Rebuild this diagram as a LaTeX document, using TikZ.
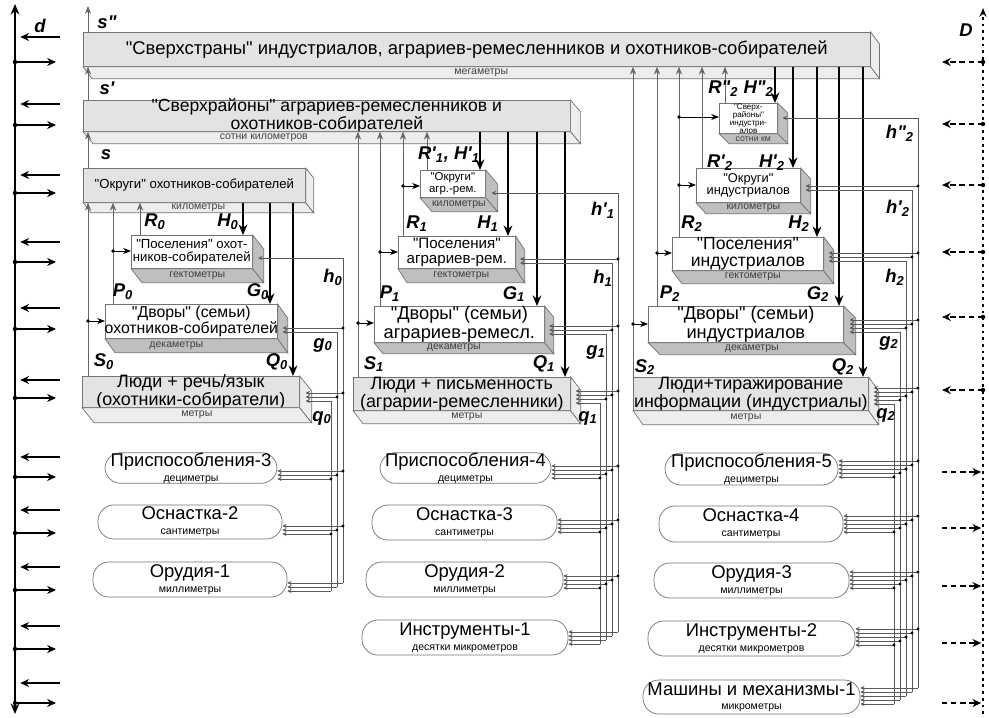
\documentclass[tikz,border=0pt]{standalone}
\usepackage{fontspec}
\setmainfont{Liberation Sans}[Ligatures=TeXOff]
\usetikzlibrary{arrows.meta,calc}

\tikzset{
  front/.style={draw=black!55, line width=0.4pt, anchor=north west, inner sep=0pt},
  lightfront/.style 2 args={front, fill=gray!22, minimum width=#1cm, minimum height=#2cm},
  whitefront/.style 2 args={front, fill=white, minimum width=#1cm, minimum height=#2cm},
  face/.style={draw=black!55, line width=0.4pt},
  boxtext/.style={font=\fontsize{#1}{#1}\selectfont, align=center, inner sep=0pt},
  scalelbl/.style={font=\fontsize{6}{6}\selectfont, text=black!75, inner sep=0pt},
  tool/.style 2 args={draw=black!55, line width=0.4pt, rounded corners=9pt, minimum width=#1cm, minimum height=#2cm, align=center, inner sep=0pt, font=\fontsize{10.5}{10}\selectfont},
  bus/.style={draw=black!65, line width=0.35pt},
  upln/.style={draw=black!60, line width=0.45pt, -{Stealth[length=4.5pt,width=3.5pt]}},
  dnln/.style={draw=black, line width=1pt, -{Stealth[length=6pt,width=5pt]}},
  brn/.style={line width=0.5pt, -{Stealth[length=4.5pt,width=3.5pt]}},
  lbl/.style={font=\fontsize{10.5}{10.5}\selectfont\bfseries\itshape, inner sep=0pt},
  leftarr/.style={line width=1.1pt, -{Stealth[length=5pt,width=4.5pt]}, shorten >=3pt},
  rightarr/.style={line width=1.1pt, -{Stealth[length=5pt,width=4.5pt]}},
  dashleft/.style={line width=0.9pt, dash pattern=on 3pt off 2.2pt, -{Stealth[length=5pt,width=4.5pt]}},
  dashright/.style={dashleft, shorten >=1pt}
}

% scale line under a tool name
\newcommand\unit[1]{\\[-1.5pt]{\fontsize{6}{6}\selectfont #1}}

% bottom and side faces of a box, with its scale
\newcommand\slab[6]{%
  \draw[face, fill=#4] (#1.south west) -- (#1.south east) -- ++(#2,#3) -- ($(#1.south west)+(#2,#3)$) -- cycle;
  \draw[face, fill=#4] (#1.north east) -- ++(#2,#3) -- ($(#1.south east)+(#2,#3)$) -- (#1.south east) -- cycle;
  \pgfmathsetmacro\slabdx{#2/2+#6}%
  \pgfmathsetmacro\slabdy{#3/2}%
  \coordinate (#1-s) at ($(#1.east)+(#2/2,\slabdy)$);
  \node[scalelbl] (#1-sc) at ($(#1.south)+(\slabdx,\slabdy)$) {#5};
}

% lines from a box side to the bus verticals
\newcommand\busrow[5]{%
  \foreach \vx [count=\j from 0] in {#5} {%
    \ifnum\j<#3\relax
      \pgfmathsetmacro\yy{#2+4*\j}%
      \draw[bus, {Stealth[length=2.4pt,width=2.4pt]}-] (#1 |- 0,\yy) -- (\vx,\yy);%
      \ifnum\j<#4\relax \fill (\vx,\yy) circle (1.6);\fi
    \fi
  }%
}

\begin{document}
\begin{tikzpicture}[x=0.02cm, y=-0.02cm]
\useasboundingbox (0,0) rectangle (989,717);

% axis d
\coordinate (dtop) at (15,4);
\coordinate (dbot) at (15,714);
\draw[line width=1.2pt, {Stealth[length=6pt,width=5pt]}-{Stealth[length=6pt,width=5pt]}] (dbot) -- (dtop);
\node[lbl] (dname) at (40,26) {d};
\foreach \ya/\yb in {37/62,104/125,175/193,242/262,308/329,380/398,457/477,510/533,567/590,626/649,683/703} {
  \draw[leftarr] (60,\ya) -- (dtop |- 0,\ya);
  \fill (dtop |- 0,\yb) circle (2.2);
  \draw[rightarr] (dtop |- 0,\yb) -- (56,\yb);
}

% axis D
\coordinate (Dtop) at (983,8);
\coordinate (Dbot) at (983,714);
\draw[line width=1.3pt, dash pattern=on 1.6pt off 2.2pt, -{Stealth[length=5pt,width=4pt]}] (Dbot) -- (Dtop);
\node[lbl] (Dname) at (966,30) {D};
\foreach \y in {62,124,185,252,317,390} {
  \fill (Dtop |- 0,\y) circle (2.2);
  \draw[dashleft] (Dtop |- 0,\y) -- (942,\y);
}
\foreach \y in {472,528,586,643,703}
  \draw[dashright] (942,\y) -- (Dtop |- 0,\y);

% boxes
\node[lightfront={15.74}{0.68}, label={[boxtext=10.5]center:{"Сверхстраны" индустриалов, аграриев-ремесленников и охотников-собирателей}}] (sstr) at (83,32) {};
\slab{sstr}{9}{12}{gray!14}{мегаметры}{0}
\node[lightfront={9.74}{0.62}, label={[boxtext=10]center:{"Сверхрайоны" аграриев-ремесленников и\\охотников-собирателей}}] (srai) at (83,100) {};
\slab{srai}{10}{12}{gray!14}{сотни километров}{-68}
\node[lightfront={4.44}{0.68}, label={[boxtext=7.5]center:{"Округи" охотников-собирателей}}] (okr0) at (83,168) {};
\slab{okr0}{8}{10}{gray!14}{километры}{0}

\node[whitefront={1.16}{0.60}, label={[boxtext=4.6]center:{"Сверх-\\районы"\\индустри-\\алов}}] (srai2) at (719,103) {};
\slab{srai2}{10}{10}{gray!50}{\fontsize{5}{5}\selectfont сотни км}{0}
\node[whitefront={1.30}{0.54}, label={[boxtext=6.5]center:{"Округи"\\агр.-рем.}}] (okr1) at (420,170) {};
\slab{okr1}{12}{14}{gray!50}{километры}{0}
\node[whitefront={2.08}{0.68}, label={[boxtext=7.3]center:{"Округи"\\индустриалов}}] (okr2) at (696,168) {};
\slab{okr2}{10}{11}{gray!50}{километры}{0}

\node[whitefront={2.42}{0.66}, label={[boxtext=7.5]center:{"Поселения" охот-\\ников-собирателей}}] (pos0) at (131,235) {};
\slab{pos0}{11}{14}{gray!50}{гектометры}{0}
\node[whitefront={2.34}{0.64}, label={[boxtext=8.6]center:{"Поселения"\\аграриев-рем.}}] (pos1) at (398,236) {};
\slab{pos1}{9}{14}{gray!50}{гектометры}{0}
\node[whitefront={3.02}{0.66}, label={[boxtext=10]center:{"Поселения"\\индустриалов}}] (pos2) at (672,237) {};
\slab{pos2}{10}{13}{gray!50}{гектометры}{0}

\node[whitefront={3.44}{0.68}, label={[boxtext=9]center:{"Дворы" (семьи)\\охотников-собирателей}}] (dv0) at (105,304) {};
\slab{dv0}{10}{14}{gray!50}{декаметры}{-20}
\node[whitefront={3.40}{0.72}, label={[boxtext=10.4]center:{"Дворы" (семьи)\\аграриев-ремесл.}}] (dv1) at (374,306) {};
\slab{dv1}{9}{11}{gray!50}{декаметры}{-10}
\node[whitefront={3.90}{0.72}, label={[boxtext=10.4]center:{"Дворы" (семьи)\\индустриалов}}] (dv2) at (648,306) {};
\slab{dv2}{12}{12}{gray!50}{декаметры}{0}

\node[lightfront={4.34}{0.62}, label={[boxtext=10.2]center:{Люди + речь/язык\\(охотники-собиратели)}}] (ppl0) at (82,376) {};
\slab{ppl0}{12}{15}{gray!14}{метры}{0}
\node[lightfront={4.34}{0.66}, label={[boxtext=10.2]center:{Люди + письменность\\(аграрии-ремесленники)}}] (ppl1) at (353,377) {};
\slab{ppl1}{10}{13}{gray!14}{метры}{0}
\node[lightfront={4.70}{0.66}, label={[boxtext=10.2]center:{Люди+тиражирование\\информации (индустриалы)}}] (ppl2) at (633,377) {};
\slab{ppl2}{10}{14}{gray!14}{метры}{-10}

% tools
\node[tool={3.44}{0.60}] (pr3) at (191,468) {Приспособления-3\unit{дециметры}};
\node[tool={3.68}{0.68}] (os2) at (190,522) {Оснастка-2\unit{сантиметры}};
\node[tool={3.88}{0.70}] (or1) at (190,579.5) {Орудия-1\unit{миллиметры}};
\node[tool={3.42}{0.60}] (pr4) at (465.5,468) {Приспособления-4\unit{дециметры}};
\node[tool={3.70}{0.70}] (os3) at (464.5,522.5) {Оснастка-3\unit{сантиметры}};
\node[tool={3.94}{0.70}] (or2) at (464.5,579.5) {Орудия-2\unit{миллиметры}};
\node[tool={4.12}{0.70}] (in1) at (465,637.5) {Инструменты-1\unit{десятки микрометров}};
\node[tool={3.46}{0.64}] (pr5) at (751.5,469) {Приспособления-5\unit{дециметры}};
\node[tool={3.68}{0.72}] (os4) at (751,524) {Оснастка-4\unit{сантиметры}};
\node[tool={3.90}{0.70}] (or3) at (751.5,580.5) {Орудия-3\unit{миллиметры}};
\node[tool={4.14}{0.70}] (in2) at (751.5,638.5) {Инструменты-2\unit{десятки микрометров}};
\node[tool={4.34}{0.68}, font=\fontsize{10.5}{9.5}\selectfont] (mash) at (751.5,697) {Машины и механизмы-1\unit{микрометры}};

% upward links
\coordinate (stop) at (88,6);
\draw[upln] (88,0 |- sstr.north) -- (stop);
\foreach \x/\lo/\hi in {88/ppl0/okr0, 113/dv0/okr0, 140/pos0/okr0, 88/okr0/srai, 88/srai/sstr,
    358/ppl1/srai, 380/dv1/srai, 403/pos1/srai, 427/okr1/srai,
    633/ppl2/sstr, 657/dv2/sstr, 679/pos2/sstr, 702/okr2/sstr, 725/srai2/sstr}
  \draw[upln] (\x,0 |- \lo.north) -- (\x,0 |- \hi.south);

% downward links
\foreach \x/\hi/\lo in {243/okr0/pos0, 270/okr0/dv0, 293/okr0/ppl0,
    480/srai/okr1, 508/srai/pos1, 537/srai/dv1, 565/srai/ppl1,
    775/sstr/srai2, 793/sstr/okr2, 817/sstr/pos2, 839/sstr/dv2, 863/sstr/ppl2}
  \draw[dnln] (\x,0 |- \hi.south) -- (\x,0 |- \lo.north);

% branches into boxes
\foreach \x/\y/\b in {88/321/dv0, 113/251/pos0, 358/323/dv1, 380/252/pos1, 403/186/okr1,
    633/324/dv2, 657/253/pos2, 679/185/okr2, 679/117/srai2} {
  \fill (\x,\y) circle (1.8);
  \draw[brn] (\x,\y) -- (\b.west |- 0,\y);
}

% bus, column 0
\foreach \vx/\ya/\yb in {343/258/583, 337/332/587, 331/401/591}
  \draw[bus] (\vx,\ya) -- (\vx,\yb);
\busrow{pos0-s}{258}{1}{0}{343,337,331}
\busrow{dv0-s}{328}{2}{1}{343,337,331}
\busrow{ppl0-s}{393}{3}{2}{343,337,331}
\busrow{pr3.east}{471}{3}{3}{343,337,331}
\busrow{os2.east}{526}{3}{3}{343,337,331}
\busrow{or1.east}{583}{3}{0}{343,337,331}

% bus, column 1
\foreach \vx/\ya/\yb in {618/193/632, 612/263/636, 606/334/640, 600/403/644}
  \draw[bus] (\vx,\ya) -- (\vx,\yb);
\busrow{okr1-s}{193}{1}{0}{618,612,606,600}
\busrow{pos1-s}{259}{2}{1}{618,612,606,600}
\busrow{dv1-s}{326}{3}{2}{618,612,606,600}
\busrow{ppl1-s}{391}{4}{3}{618,612,606,600}
\busrow{pr4.east}{466}{4}{4}{618,612,606,600}
\busrow{os3.east}{520}{4}{4}{618,612,606,600}
\busrow{or2.east}{576}{4}{4}{618,612,606,600}
\busrow{in1.east}{632}{4}{0}{618,612,606,600}

% bus, column 2
\foreach \vx/\ya/\yb in {918/118/688, 912/190/692, 906/261/696, 900/332/700, 894/404/704}
  \draw[bus] (\vx,\ya) -- (\vx,\yb);
\busrow{srai2-s}{118}{1}{0}{918,912,906,900,894}
\busrow{okr2-s}{186}{2}{1}{918,912,906,900,894}
\busrow{pos2-s}{253}{3}{2}{918,912,906,900,894}
\busrow{dv2-s}{320}{4}{3}{918,912,906,900,894}
\busrow{ppl2-s}{388}{5}{4}{918,912,906,900,894}
\busrow{pr5.east}{461}{5}{5}{918,912,906,900,894}
\busrow{os4.east}{516}{5}{5}{918,912,906,900,894}
\busrow{or3.east}{572}{5}{5}{918,912,906,900,894}
\busrow{in2.east}{629}{5}{5}{918,912,906,900,894}
\busrow{mash.east}{688}{5}{0}{918,912,906,900,894}

% labels
\foreach \nm/\x/\y/\t in {
    ls2/107/22/{s"}, ls1/107/88/{s'}, ls0/106/155/{s},
    lR0/155/222/{R\textsubscript{0}}, lH0/228/222/{H\textsubscript{0}},
    lP0/123/292/{P\textsubscript{0}}, lG0/258/292/{G\textsubscript{0}},
    lS0/104/362/{S\textsubscript{0}}, lQ0/277/362/{Q\textsubscript{0}},
    lh0/333/277/{h\textsubscript{0}}, lg0/323/345/{g\textsubscript{0}}, lq0/322/418/{q\textsubscript{0}},
    lRH1/449/155/{R'\textsubscript{1}, H'\textsubscript{1}},
    lR1/417/224/{R\textsubscript{1}}, lH1/488/224/{H\textsubscript{1}},
    lP1/390/294/{P\textsubscript{1}}, lG1/514/294/{G\textsubscript{1}},
    lS1/374/364/{S\textsubscript{1}}, lQ1/544/364/{Q\textsubscript{1}},
    lhh1/603/210/{h'\textsubscript{1}}, lh1/603/278/{h\textsubscript{1}},
    lg1/596/352/{g\textsubscript{1}}, lq1/588/418/{q\textsubscript{1}},
    lRH2/741/89/{R"\textsubscript{2} H"\textsubscript{2}},
    lRR2/720/163/{R'\textsubscript{2}}, lHH2/772/163/{H'\textsubscript{2}},
    lR2/692/224/{R\textsubscript{2}}, lH2/799/224/{H\textsubscript{2}},
    lP2/670/294/{P\textsubscript{2}}, lG2/818/294/{G\textsubscript{2}},
    lS2/645/367/{S\textsubscript{2}}, lQ2/843/367/{Q\textsubscript{2}},
    lhhh2/900/133/{h"\textsubscript{2}}, lhh2/898/208/{h'\textsubscript{2}},
    lh2/895/277/{h\textsubscript{2}}, lg2/889/343/{g\textsubscript{2}}, lq2/886/415/{q\textsubscript{2}}}
  \node[lbl] (\nm) at (\x,\y) {\t};

\end{tikzpicture}
\end{document}
